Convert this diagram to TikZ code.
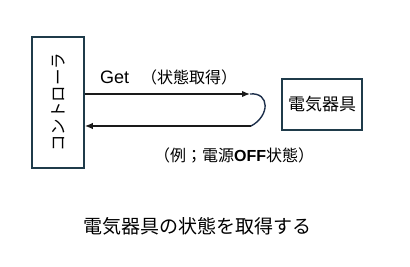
\documentclass[tikz,border=0pt]{standalone}
\usepackage{fontspec}
\usepackage{xcolor}
\usetikzlibrary{positioning,arrows.meta,calc}
\newfontfamily\jpfont{Noto Sans CJK JP}
\newfontfamily\latinfont{Liberation Sans}
\definecolor{slate}{HTML}{1F3B4A}
\definecolor{wire}{HTML}{1A1A1A}
\definecolor{loopblue}{HTML}{1C2E4A}

\begin{document}
\begin{tikzpicture}[x=1pt, y=-1pt,
    box/.style={rectangle, draw=slate, line width=1.6pt, inner sep=0pt, font=\jpfont\fontsize{17}{20}\selectfont},
    arrow/.style={-{Latex[length=8pt, width=6.5pt]}, line width=1.4pt, draw=wire},
    lbl/.style={inner sep=0pt, font=\jpfont\fontsize{16}{19}\selectfont}
]
    \useasboundingbox (0,0) rectangle (410,267);

    % Boxes
    \node[box, minimum width=52pt, minimum height=131pt] (ctrl) at (58,102.5) {};
    \node[rotate=90, font=\jpfont\fontsize{16.5}{19}\selectfont] (ctrltext) at (ctrl.center) {コントローラ};
    \node[box, minimum width=80pt, minimum height=51pt] (device) at (322,104.5) {電気器具};

    % Turning points of the request/response
    \coordinate (getend) at (250,94);
    \coordinate (retstart) at (251,126);

    % Arrows
    \draw[arrow] (ctrl.east |- getend) -- (getend);
    \draw[loopblue, line width=1.4pt] (getend) .. controls (270,92) and (270,116) .. (retstart);
    \draw[arrow] (retstart) -- (ctrl.east |- retstart);

    % Labels
    \node[lbl, anchor=west] (getlbl) at (100,77) {{\latinfont\fontsize{18}{20}\selectfont Get}\hspace{12pt}（状態取得）};
    \node[lbl, anchor=west] (replbl) at (154,155) {（例；電源{\latinfont\bfseries OFF}状態）};
    \node[font=\jpfont\fontsize{19}{22}\selectfont, inner sep=0pt] (caption) at (197.5,226) {電気器具の状態を取得する};
\end{tikzpicture}
\end{document}
